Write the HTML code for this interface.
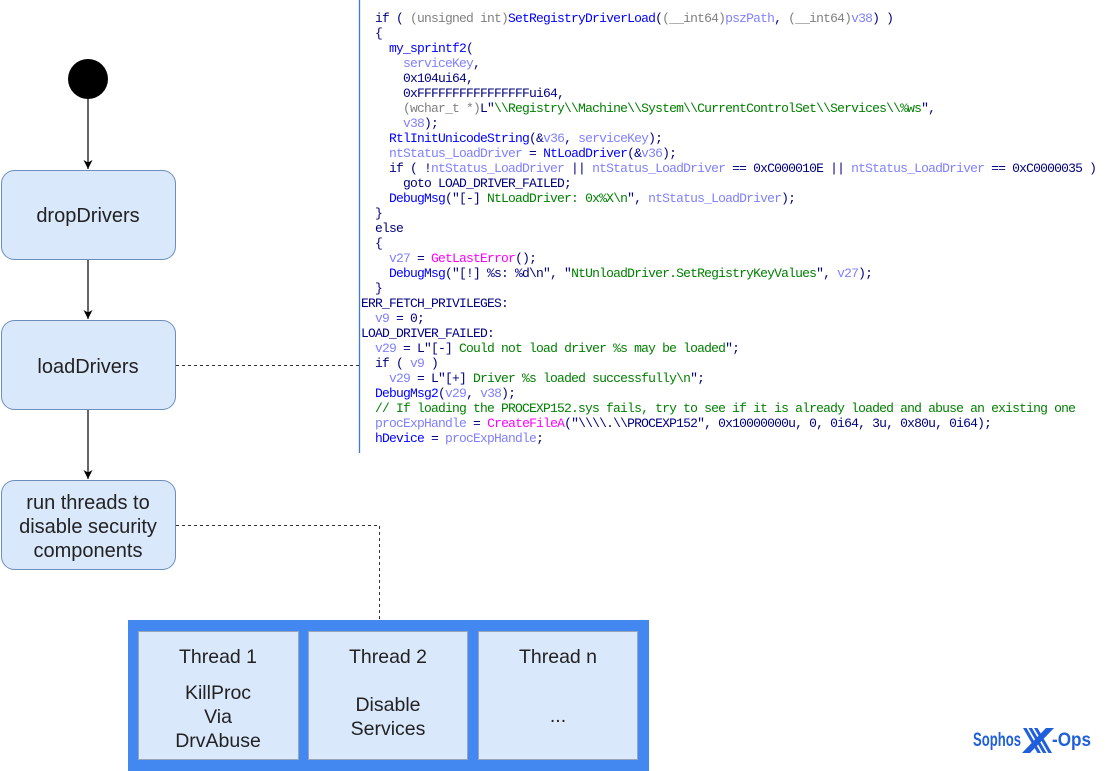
<!DOCTYPE html>
<html><head><meta charset="utf-8">
<style>
html,body{margin:0;padding:0;background:#fff;}
body{width:1110px;height:771px;position:relative;overflow:hidden;}
svg{position:absolute;left:0;top:0;}
pre{position:absolute;left:361px;top:10.5px;margin:0;font-family:"Liberation Mono","DejaVu Sans Mono",monospace;font-size:13px;letter-spacing:-0.8px;line-height:15px;color:#000080;white-space:pre;}
.f{color:#0000ff}.v{color:#8080ff}.c{color:#808080}.s{color:#008000}.m{color:#ff00ff}
</style></head><body>
<svg width="1110" height="771" viewBox="0 0 1110 771" xmlns="http://www.w3.org/2000/svg" font-family="Liberation Sans, Arial, sans-serif">
  <defs>
    <marker id="ah" markerWidth="12" markerHeight="12" refX="9" refY="5.5" orient="auto" markerUnits="userSpaceOnUse">
      <path d="M0,1 L9,5.5 L0,10 L2.5,5.5 Z" fill="#000"/>
    </marker>
  </defs>
  <!-- start node -->
  <circle cx="88" cy="79" r="20" fill="#000"/>
  <!-- arrows -->
  <line x1="88" y1="99" x2="88" y2="169" stroke="#000" stroke-width="1.2" marker-end="url(#ah)"/>
  <line x1="88" y1="260" x2="88" y2="319" stroke="#000" stroke-width="1.2" marker-end="url(#ah)"/>
  <line x1="88" y1="410" x2="88" y2="479" stroke="#000" stroke-width="1.2" marker-end="url(#ah)"/>
  <!-- boxes -->
  <rect x="1.5" y="170.5" width="174" height="89" rx="13" fill="#dae8fc" stroke="#6c8ebf" stroke-width="1"/>
  <rect x="1.5" y="320.5" width="174" height="89" rx="13" fill="#dae8fc" stroke="#6c8ebf" stroke-width="1"/>
  <rect x="1.5" y="480.5" width="174" height="89" rx="13" fill="#dae8fc" stroke="#6c8ebf" stroke-width="1"/>
  <g font-size="20" fill="#222" text-anchor="middle">
    <text x="88" y="222">dropDrivers</text>
    <text x="88" y="373">loadDrivers</text>
    <text x="88" y="509">run threads to</text>
    <text x="88" y="533">disable security</text>
    <text x="88" y="557">components</text>
  </g>
  <!-- dashed connectors -->
  <line x1="176" y1="365.5" x2="359" y2="365.5" stroke="#333" stroke-width="1" stroke-dasharray="3,3"/>
  <polyline points="176,525.5 379.5,525.5 379.5,620" fill="none" stroke="#333" stroke-width="1" stroke-dasharray="3,3"/>
  <!-- code border -->
  <line x1="359.5" y1="0" x2="359.5" y2="453" stroke="#3d7ad6" stroke-width="1.3"/>
  <!-- thread container -->
  <rect x="128" y="620" width="521" height="155" fill="#4387f0"/>
  <rect x="138.5" y="631.5" width="160" height="128" fill="#dae8fc" stroke="#9aa6b8" stroke-width="1"/>
  <rect x="308.5" y="631.5" width="159" height="128" fill="#dae8fc" stroke="#9aa6b8" stroke-width="1"/>
  <rect x="478.5" y="631.5" width="159" height="128" fill="#dae8fc" stroke="#9aa6b8" stroke-width="1"/>
  <g font-size="19.5" fill="#222" text-anchor="middle">
    <text x="218" y="663">Thread 1</text>
    <text x="218" y="699">KillProc</text>
    <text x="218" y="723">Via</text>
    <text x="218" y="747">DrvAbuse</text>
    <text x="388" y="663">Thread 2</text>
    <text x="388" y="711">Disable</text>
    <text x="388" y="735">Services</text>
    <text x="558" y="663">Thread n</text>
    <text x="558" y="722">...</text>
  </g>
  <!-- Sophos X-Ops logo -->
  <g fill="#1f5fdc">
    <text x="973" y="746" font-size="19.5" font-weight="bold" textLength="48" lengthAdjust="spacingAndGlyphs">Sophos</text>
    <polygon points="1022,753 1030,753 1054,728 1046,728"/>
    <polygon points="1023,728 1026.5,728 1041,753 1037.5,753"/>
    <polygon points="1028.5,728 1032,728 1046.5,753 1043,753"/>
    <polygon points="1034,728 1037.5,728 1052,753 1048.5,753"/>
    <text x="1052" y="746" font-size="19.5" font-weight="bold" textLength="39" lengthAdjust="spacingAndGlyphs">-Ops</text>
  </g>
</svg>
<pre>  if ( <span class="c">(unsigned int)</span><span class="f">SetRegistryDriverLoad</span>(<span class="c">(__int64)</span><span class="v">pszPath</span>, <span class="c">(__int64)</span><span class="v">v38</span>) )
  {
    <span class="f">my_sprintf2</span>(
      <span class="v">serviceKey</span>,
      0x104ui64,
      0xFFFFFFFFFFFFFFFFui64,
      <span class="c">(wchar_t *)</span>L"<span class="s">\\Registry\\Machine\\System\\CurrentControlSet\\Services\\%ws</span>",
      <span class="v">v38</span>);
    <span class="f">RtlInitUnicodeString</span>(&amp;<span class="v">v36</span>, <span class="v">serviceKey</span>);
    <span class="v">ntStatus_LoadDriver</span> = <span class="f">NtLoadDriver</span>(&amp;<span class="v">v36</span>);
    if ( !<span class="v">ntStatus_LoadDriver</span> || <span class="v">ntStatus_LoadDriver</span> == 0xC000010E || <span class="v">ntStatus_LoadDriver</span> == 0xC0000035 )
      goto LOAD_DRIVER_FAILED;
    <span class="f">DebugMsg</span>("[-] <span class="s">NtLoadDriver: 0x%X\n</span>", <span class="v">ntStatus_LoadDriver</span>);
  }
  else
  {
    <span class="v">v27</span> = <span class="m">GetLastError</span>();
    <span class="f">DebugMsg</span>("[!] %s: %d\n", "<span class="s">NtUnloadDriver.SetRegistryKeyValues</span>", <span class="v">v27</span>);
  }
ERR_FETCH_PRIVILEGES:
  <span class="v">v9</span> = 0;
LOAD_DRIVER_FAILED:
  <span class="v">v29</span> = L"[-] <span class="s">Could not load driver %s may be loaded</span>";
  if ( <span class="v">v9</span> )
    <span class="v">v29</span> = L"[+] <span class="s">Driver %s loaded successfully\n</span>";
  <span class="f">DebugMsg2</span>(<span class="v">v29</span>, <span class="v">v38</span>);
  <span class="s">// If loading the PROCEXP152.sys fails, try to see if it is already loaded and abuse an existing one</span>
  <span class="v">procExpHandle</span> = <span class="m">CreateFileA</span>("\\\\.\\PROCEXP152", 0x10000000u, 0, 0i64, 3u, 0x80u, 0i64);
  <span class="f">hDevice</span> = <span class="v">procExpHandle</span>;</pre>
</body></html>
